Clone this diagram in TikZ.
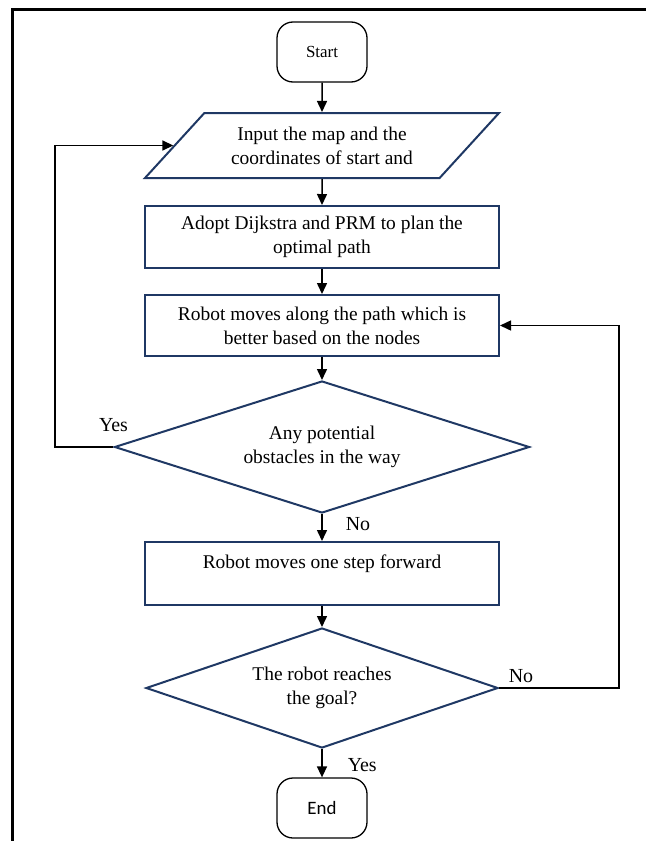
\documentclass[tikz,border=0pt]{standalone}
\usepackage{fontspec}
\setmainfont{Liberation Serif}
\newfontfamily\calibrifont{Carlito}
\usetikzlibrary{shapes}
\usetikzlibrary{positioning}
\usetikzlibrary{arrows.meta}
\definecolor{boxblue}{RGB}{31,56,100}
\newcommand\bodyfont{\fontsize{19.5}{24}\selectfont}
\tikzset{
  terminal/.style={draw=black, line width=1.3bp, rounded corners=16bp,
    minimum width=90bp, minimum height=60bp, font=\fontsize{17}{20}\selectfont},
  io/.style={trapezium, trapezium left angle=35, trapezium right angle=145,
    trapezium stretches body, draw=boxblue, line width=2bp,
    minimum width=354bp, minimum height=65bp, inner sep=2bp, align=center, font=\bodyfont},
  process/.style={rectangle, draw=boxblue, line width=2bp,
    minimum width=354bp, minimum height=62bp, align=center, font=\bodyfont},
  decision/.style={diamond, draw=boxblue, line width=2bp, inner sep=0pt,
    align=center, font=\bodyfont},
  flow/.style={-{Triangle[length=11bp,width=10bp]}, line width=1.5bp, black},
  answer/.style={font=\fontsize{20}{22}\selectfont, inner sep=1bp},
}

\begin{document}
\begin{tikzpicture}[x=1bp,y=-1bp]
  \useasboundingbox (0,0) rectangle (646,841);
  % frame of the page, only top and left edges show
  \draw[line width=3bp] (12.5,841) |- (646,9.5);

  \node[terminal] (start) at (322,52) {Start};
  \node[io] (input) at (322,145.5) {Input the map and the\\coordinates of start and};
  \node[process] (plan) at (322,237) {Adopt Dijkstra and PRM to plan the\\optimal path};
  \node[process, minimum height=61bp] (move) at (322,325.5) {Robot moves along the path which is\\better based on the nodes};
  \node[decision, shape aspect=3.14, minimum width=415bp, minimum height=132bp] (obst) at (322,447) {Any potential\\obstacles in the way};
  \node[process, minimum height=63bp] (step) at (322,573.5) {Robot moves one step forward\\ \mbox{}};
  \node[decision, shape aspect=2.93, minimum width=352bp, minimum height=120bp] (goal) at (322,688) {The robot reaches\\the goal?};
  \node[terminal, font=\calibrifont\fontsize{19}{22}\selectfont] (end) at (322,808) {End};

  \coordinate (leftrail) at (55,447);
  \coordinate (rightrail) at (619,688);

  \draw[flow] (start) -- (input);
  \draw[flow] (input) -- (plan);
  \draw[flow] (plan) -- (move);
  \draw[flow] (move) -- (obst);
  \draw[flow] (obst) -- node[answer, right=22bp, pos=0.37] {No} (step);
  \draw[flow] (step) -- (goal);
  \draw[flow] (goal) -- node[answer, right=24bp, pos=0.55] {Yes} (end);
  % loops back
  \draw[flow] (obst.west) node[answer, above=14bp] {Yes} -- (leftrail) |- (input);
  \draw[flow] (goal.east) node[answer, above right=4bp and 8bp] {No} -- (rightrail) |- (move);
\end{tikzpicture}
\end{document}
